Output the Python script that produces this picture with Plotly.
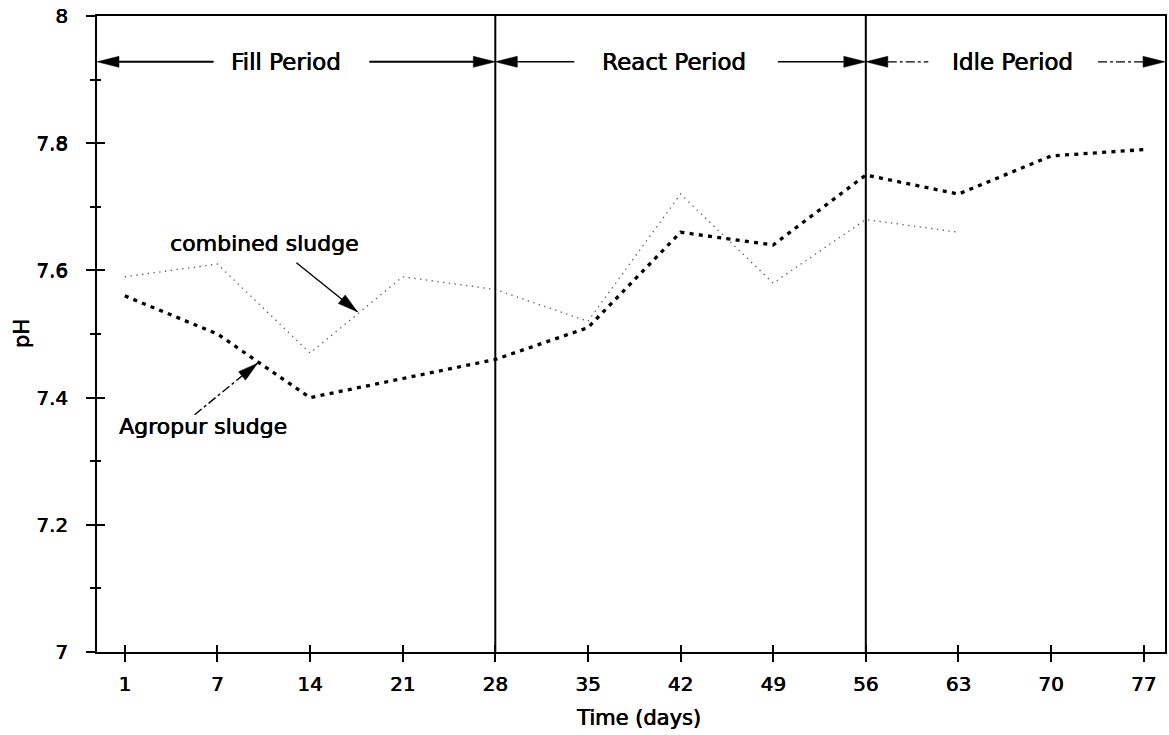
import math
import plotly.graph_objects as go

# --- data -------------------------------------------------------------
days = [1, 7, 14, 21, 28, 35, 42, 49, 56, 63, 70, 77]
agropur_ph = [7.56, 7.50, 7.40, 7.43, 7.46, 7.51, 7.66, 7.64, 7.75, 7.72, 7.78, 7.79]
combined_ph = [7.59, 7.61, 7.47, 7.59, 7.57, 7.52, 7.72, 7.58, 7.68, 7.66, None, None]
period_names = ["Fill Period", "React Period", "Idle Period"]
period_switch_days = [28, 56]
y_tick_vals = [7, 7.2, 7.4, 7.6, 7.8, 8]
y_tick_text = ["7", "7.2", "7.4", "7.6", "7.8", "8"]

# --- layout constants -------------------------------------------------
W, H = 1169, 735
M_L, M_R, M_T, M_B = 97, 2, 16, 83
X_RANGE = [-0.3, 11.23]
Y_RANGE = [7.0, 8.0]
FONT = "DejaVu Sans"
HEAVY = "0.45px 0 0 black, 0 0.3px 0 black"   # thickens the regular face a little
PPU_X = (W - M_L - M_R) / (X_RANGE[1] - X_RANGE[0])   # pixels per x unit
PPU_Y = (H - M_T - M_B) / (Y_RANGE[1] - Y_RANGE[0])   # pixels per y unit


def font(size):
    return dict(family=FONT, size=size, color="black", shadow=HEAVY)


pos = list(range(len(days)))   # days are plotted evenly spaced

fig = go.Figure()

fig.add_trace(go.Scatter(
    x=pos, y=combined_ph, mode="lines", name="combined sludge",
    line=dict(color="#555555", width=1.3, dash="1.3px,4.5px"),
    connectgaps=False, showlegend=False, hoverinfo="skip"))

fig.add_trace(go.Scatter(
    x=pos, y=agropur_ph, mode="lines", name="Agropur sludge",
    line=dict(color="black", width=3.3, dash="4px,5.3px"),
    showlegend=False, hoverinfo="skip"))

# empty trace so the overlay axes (inner halves of the ticks) get drawn
fig.add_trace(go.Scatter(x=[None], y=[None], xaxis="x2", yaxis="y2",
                         mode="markers", showlegend=False, hoverinfo="skip"))

shapes = []
annotations = []


def arrow_head(xt, yt, dx, dy, length=22, half=5.5):
    """Filled triangle with its tip at (xt, yt), pointing along (dx, dy) in
    screen pixels (y up)."""
    n = math.hypot(dx, dy)
    ux, uy = dx / n, dy / n
    px, py = -uy, ux
    bx, by = -length * ux, -length * uy
    path = (f"M0,0 L{bx + half * px:.2f},{by + half * py:.2f} "
            f"L{bx - half * px:.2f},{by - half * py:.2f} Z")
    return dict(type="path", xref="x", yref="y",
                xsizemode="pixel", ysizemode="pixel",
                xanchor=xt, yanchor=yt, path=path,
                fillcolor="black", line=dict(color="black", width=0.5))


# period boundaries
bounds = [X_RANGE[0]] + [days.index(d) for d in period_switch_days] + [X_RANGE[1]]
for b in bounds[1:-1]:
    shapes.append(dict(type="line", xref="x", yref="y", x0=b, x1=b,
                       y0=Y_RANGE[0], y1=Y_RANGE[1],
                       line=dict(color="black", width=2)))

# period arrows and labels
ARROW_Y = 7.928
label_x = [1.735, 5.93, 9.58]
label_half_px = [56, 73, 61]
gap_left_px = [16, 27, 23]
gap_right_px = [28, 31, 25]
line_dash = ["solid", "solid", "dashdot"]
line_w = [2, 1.6, 1.2]
HEAD = 22
for i, name in enumerate(period_names):
    left, right = bounds[i], bounds[i + 1]
    cx = label_x[i]
    annotations.append(dict(x=cx, y=ARROW_Y, xref="x", yref="y", text=name,
                            showarrow=False, xanchor="center", yanchor="middle",
                            font=font(23)))
    shapes.append(arrow_head(left, ARROW_Y, -1, 0, length=HEAD))
    shapes.append(arrow_head(right, ARROW_Y, 1, 0, length=HEAD))
    l_end = cx - (label_half_px[i] + gap_left_px[i]) / PPU_X
    r_start = cx + (label_half_px[i] + gap_right_px[i]) / PPU_X
    shapes.append(dict(type="line", xref="x", yref="y",
                       x0=left + HEAD / PPU_X, x1=l_end, y0=ARROW_Y, y1=ARROW_Y,
                       line=dict(color="black", width=line_w[i], dash=line_dash[i])))
    shapes.append(dict(type="line", xref="x", yref="y",
                       x0=r_start, x1=right - HEAD / PPU_X, y0=ARROW_Y, y1=ARROW_Y,
                       line=dict(color="black", width=line_w[i], dash=line_dash[i])))

# series labels with pointer arrows
callouts = [
    # text, text x, text y, tail x, tail y, tip x, tip y, dash
    ("combined sludge", 1.50, 7.643, 1.853, 7.612, 2.511, 7.535, "solid"),
    ("Agropur sludge", 0.84, 7.355, 0.754, 7.373, 1.433, 7.454, "dashdot"),
]
for text, tx, ty, x0, y0, x1, y1, dash in callouts:
    annotations.append(dict(x=tx, y=ty, xref="x", yref="y", text=text,
                            showarrow=False, xanchor="center", yanchor="middle",
                            font=font(22)))
    shapes.append(dict(type="line", xref="x", yref="y", x0=x0, y0=y0, x1=x1, y1=y1,
                       line=dict(color="black", width=1.4, dash=dash)))
    shapes.append(arrow_head(x1, y1, (x1 - x0) * PPU_X, (y1 - y0) * PPU_Y,
                             length=20, half=5.5))

# axis titles
annotations.append(dict(x=(640 - M_L) / (W - M_L - M_R), y=-(718 - (H - M_B)) / (H - M_T - M_B),
                        xref="paper", yref="paper", text="Time (days)", showarrow=False,
                        xanchor="center", yanchor="middle", font=font(21)))
annotations.append(dict(x=-(M_L - 22) / (W - M_L - M_R), y=0.5,
                        xref="paper", yref="paper", text="pH", showarrow=False,
                        textangle=-90, xanchor="center", yanchor="middle",
                        font=font(21)))

tick_font = font(20)

fig.update_layout(
    width=W, height=H,
    margin=dict(l=M_L, r=M_R, t=M_T, b=M_B, pad=0),
    paper_bgcolor="white", plot_bgcolor="white",
    showlegend=False,
    shapes=shapes, annotations=annotations,
    xaxis=dict(range=X_RANGE, tickmode="array", tickvals=pos,
               ticktext=[str(d) for d in days], ticks="outside", ticklen=8,
               tickwidth=1.5, tickcolor="black", tickfont=tick_font,
               ticklabelstandoff=5,
               showline=True, linecolor="black", linewidth=2, mirror=True,
               showgrid=False, zeroline=False, fixedrange=True),
    xaxis2=dict(range=X_RANGE, overlaying="x", anchor="y", side="bottom",
                tickmode="array", tickvals=pos, ticks="inside", ticklen=7,
                tickwidth=1.5, tickcolor="black", showticklabels=False,
                showline=False, showgrid=False, zeroline=False),
    yaxis=dict(range=Y_RANGE, tickmode="array", tickvals=y_tick_vals,
               ticktext=y_tick_text, ticks="outside", ticklen=9, tickwidth=2,
               tickcolor="black", tickfont=tick_font, ticklabelstandoff=14,
               minor=dict(tickmode="array", tickvals=[7.1, 7.3, 7.5, 7.7, 7.9],
                          ticks="outside", ticklen=5, tickwidth=1.5,
                          tickcolor="black", showgrid=False),
               showline=True, linecolor="black", linewidth=2, mirror=True,
               showgrid=False, zeroline=False, fixedrange=True),
    yaxis2=dict(range=Y_RANGE, overlaying="y", anchor="x", side="left",
                tickmode="array", tickvals=y_tick_vals, ticks="inside", ticklen=8,
                tickwidth=2, tickcolor="black", showticklabels=False,
                minor=dict(tickmode="array", tickvals=[7.1, 7.3, 7.5, 7.7, 7.9],
                           ticks="inside", ticklen=4, tickwidth=1.5,
                           tickcolor="black", showgrid=False),
                showline=False, showgrid=False, zeroline=False),
)

fig.write_html("out.html")
